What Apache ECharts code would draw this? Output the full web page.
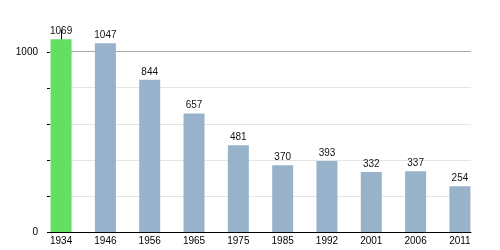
<!DOCTYPE html>
<html>
<head>
<meta charset="utf-8">
<script src="https://cdn.jsdelivr.net/npm/echarts@6/dist/echarts.min.js"></script>
<style>
html,body{margin:0;padding:0;background:#fff;}
#c{width:500px;height:250px;}
</style>
</head>
<body>
<div id="c"></div>
<script>
const years = ['1934','1946','1956','1965','1975','1985','1992','2001','2006','2011'];
const population = [1069,1047,844,657,481,370,393,332,337,254];
const yTickLabels = [0, 1000];

const FONT = 'Liberation Sans, Arial, sans-serif';
const chart = echarts.init(document.getElementById('c'), null, {renderer:'canvas'});
chart.setOption({
  animation: false,
  backgroundColor: '#fff',
  grid: [
    {left: 50, top: 30, right: 29, bottom: 18},
    {left: 50, top: 52, right: 29, bottom: 18}
  ],
  xAxis: [{
    type: 'value',
    gridIndex: 0,
    min: -0.25,
    max: 9.25,
    interval: 0.25,
    axisLine: {show: true, onZero: false, lineStyle: {color: '#000', width: 1}},
    axisTick: {show: false},
    splitLine: {show: false},
    axisLabel: {
      show: true,
      margin: 4,
      fontSize: 10,
      fontFamily: FONT,
      color: '#000',
      formatter: function (v) {
        const r = Math.round(v);
        return Math.abs(v - r) < 1e-6 && r >= 0 && r < years.length ? years[r] : '';
      }
    }
  }, {
    type: 'value',
    gridIndex: 1,
    show: false
  }],
  yAxis: [{
    type: 'value',
    gridIndex: 0,
    min: 0,
    max: 1120,
    interval: 200,
    axisLine: {show: true, lineStyle: {color: '#000', width: 1}},
    axisTick: {show: false},
    axisLabel: {show: false},
    splitLine: {
      show: true,
      showMaxLine: false,
      lineStyle: {color: ['#e4e4e4','#e4e4e4','#e4e4e4','#e4e4e4','#e4e4e4','#a8a8a8','#ffffff'], width: 1}
    }
  }, {
    type: 'value',
    gridIndex: 1,
    min: 0,
    max: 1000,
    interval: 200,
    axisLine: {show: false},
    axisTick: {show: true, length: 3, lineStyle: {color: '#000'}},
    splitLine: {show: false},
    axisLabel: {
      margin: 12,
      fontSize: 10,
      fontFamily: FONT,
      color: '#000',
      formatter: function (v) { return yTickLabels.indexOf(v) >= 0 ? String(v) : ''; }
    }
  }],
  series: [{
    type: 'bar',
    xAxisIndex: 0,
    yAxisIndex: 0,
    barWidth: 21,
    data: population.map(function (v, i) { return [i, v]; }),
    itemStyle: {
      color: function (p) { return p.dataIndex === 0 ? '#63e063' : '#98b2cc'; }
    },
    label: {
      show: true,
      position: 'top',
      distance: 3,
      fontSize: 10,
      fontFamily: FONT,
      color: '#111',
      formatter: function (p) { return String(p.value[1]); }
    }
  }]
});
</script>
</body>
</html>
